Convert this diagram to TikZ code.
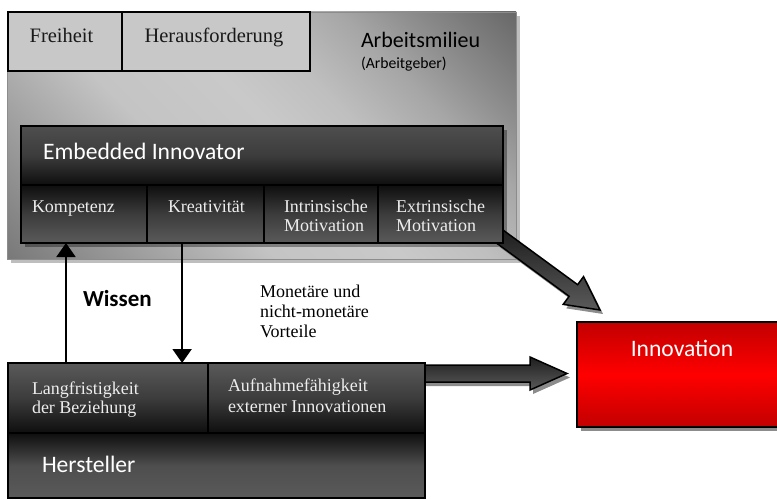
\documentclass[tikz,border=0pt]{standalone}
\usepackage{fontspec}
\setmainfont{Liberation Serif}
\newfontfamily\calib{Carlito}
\usetikzlibrary{calc, arrows.meta}

% grey tones of the work environment panel
\definecolor{milBL}{HTML}{7A7A7A}
\definecolor{milB2}{HTML}{A0A0A0}
\definecolor{milL1}{HTML}{C4C4C4}
\definecolor{milL2}{HTML}{C9C9C9}
\definecolor{milT1}{HTML}{BFBFBF}
\definecolor{milT2}{HTML}{A6A6A6}
\definecolor{milT3}{HTML}{8E8E8E}
\definecolor{milTR}{HTML}{666666}
\definecolor{lightBox}{HTML}{C8C8C8}
\definecolor{cellText}{HTML}{EDEDED}
\definecolor{darkA}{HTML}{0E0E0E}
\definecolor{darkB}{HTML}{3C3C3C}
\definecolor{darkC}{HTML}{5A5A5A}
\definecolor{darkD}{HTML}{4E4E4E}
\definecolor{redDark}{HTML}{C20000}
\definecolor{redLight}{HTML}{FF0000}
\definecolor{shadowGrey}{HTML}{8C8C8C}
\definecolor{shadowLight}{HTML}{BEBEBE}

\pgfdeclarehorizontalshading{milieushade}{100bp}{color(0bp)=(milBL); color(15bp)=(milBL);
  color(28bp)=(milB2); color(40bp)=(milL1); color(52bp)=(milL2); color(60bp)=(milT1);
  color(69bp)=(milT2); color(75bp)=(milT3); color(86bp)=(milTR); color(100bp)=(milTR)}

\newdimen\faXa \newdimen\faYa \newdimen\faXb \newdimen\faYb
% block arrow between two named coordinates:
% #1 start, #2 end, #3 shaft half width, #4 head half width, #5 head length
\newcommand\fatarrow[5]{%
  \pgfextractx{\faXa}{\pgfpointanchor{#1}{center}}%
  \pgfextracty{\faYa}{\pgfpointanchor{#1}{center}}%
  \pgfextractx{\faXb}{\pgfpointanchor{#2}{center}}%
  \pgfextracty{\faYb}{\pgfpointanchor{#2}{center}}%
  \pgfmathsetmacro\faAng{atan2(\faYb-\faYa,\faXb-\faXa)}%
  \pgfmathsetmacro\faLen{veclen(\faXb-\faXa,\faYb-\faYa)}%
  \pgfmathsetmacro\faNeck{\faLen-#5}%
  \begin{scope}[shift={($(#1)+(3pt,-4pt)$)}, rotate=\faAng, x=1pt, y=1pt]
    \fill[shadowGrey] (0,#3) -- (\faNeck,#3) -- (\faNeck,#4) -- (\faLen,0)
      -- (\faNeck,-#4) -- (\faNeck,-#3) -- (0,-#3) -- cycle;
  \end{scope}
  \begin{scope}[shift={(#1)}, rotate=\faAng, x=1pt, y=1pt]
    \shade[fatbody] (0,#3) -- (\faNeck,#3) -- (\faNeck,#4) -- (\faLen,0)
      -- (\faNeck,-#4) -- (\faNeck,-#3) -- (0,-#3) -- cycle;
  \end{scope}}

\tikzset{
  every node/.style={inner sep=0pt, outer sep=0pt},
  milieubox/.style={anchor=north west, shade, shading=milieushade, shading angle=45,
    draw=shadowGrey, line width=0.8pt},
  lightbox/.style={anchor=north west, fill=lightBox, draw=black, line width=1.5pt},
  headbox/.style={anchor=north west, draw=black, line width=1.5pt,
    top color=darkD, bottom color=darkA, middle color=darkB},
  lowcell/.style={anchor=north west, draw=black, line width=1.5pt,
    top color=darkA, bottom color=darkC, middle color=darkB},
  upcell/.style={anchor=north west, draw=black, line width=1.5pt,
    top color=darkC, bottom color=darkA, middle color=darkB},
  footbox/.style={anchor=north west, draw=black, line width=1.5pt,
    top color=darkA, bottom color=darkC, middle color=darkD},
  redbox/.style={anchor=north west, draw=black, line width=2pt,
    top color=redDark, bottom color=redDark, middle color=redLight},
  fatbody/.style={draw=black, line width=1.5pt, line join=miter,
    top color=black!88, bottom color=darkC},
  conn/.style={line width=2pt, -{Triangle[width=19pt,length=14pt]}},
  toptext/.style={font=\fontsize{20.5}{24}\selectfont, text=black!90, anchor=base},
  celltext/.style={font=\fontsize{18}{21}\selectfont, text=cellText, anchor=base west},
  notetext/.style={font=\fontsize{18}{21}\selectfont, text=black, anchor=base west},
  headtext/.style={font=\calib\fontsize{23.6}{28}\selectfont, text=white, anchor=base west},
}

\begin{document}
\begin{tikzpicture}[x=1pt, y=-1pt]
\useasboundingbox (0,0) rectangle (777,500);

% work environment (employer)
\fill[shadowLight] (11,16) rectangle (520,263);
\node[milieubox, minimum width=509pt, minimum height=247pt] (milieu) at (7,12) {};
\node[lightbox, minimum width=114pt, minimum height=59pt] (frei) at (8,12) {};
\node[lightbox, minimum width=188pt, minimum height=59pt] (heraus) at (122,12) {};
\node[toptext] (freiT) at (61.5,43) {Freiheit};
\node[toptext] (herausT) at (214,43) {Herausforderung};
\node[headtext, text=black, font=\calib\fontsize{22}{26}\selectfont] (milieuT) at (361,48) {Arbeitsmilieu};
\node[headtext, text=black, font=\calib\fontsize{15.7}{19}\selectfont] (milieuSub) at (361,69) {(Arbeitgeber)};

% innovation
\fill[shadowGrey] (581,326) rectangle (804,431);
\node[redbox, minimum width=223pt, minimum height=105pt] (innov) at (577,322) {};
\node[headtext, anchor=base] (innovT) at (682,356) {Innovation};

% embedded innovator
\fill[black, opacity=0.35] (25,130) rectangle (507,247);
\coordinate (eiCorner) at (503,243);
\coordinate (dStart) at ($(eiCorner)+(-4,-7)$);
\coordinate (dEnd) at ($(innov.north west)+(23,-12)$);
\fatarrow{dStart}{dEnd}{7.2}{17.2}{33}

\node[headbox, minimum width=482pt, minimum height=59pt] (ei) at (21,126) {};
\node[lowcell, minimum width=126pt, minimum height=58pt] (komp) at (21,185) {};
\node[lowcell, minimum width=117pt, minimum height=58pt] (krea) at (147,185) {};
\node[lowcell, minimum width=114pt, minimum height=58pt] (intr) at (264,185) {};
\node[lowcell, minimum width=125pt, minimum height=58pt] (extr) at (378,185) {};
\node[headtext] (eiT) at (43,160) {Embedded Innovator};
\node[celltext] (kompT) at (32,212) {Kompetenz};
\node[celltext] (kreaT) at (168,212) {Kreativität};
\node[celltext] (intrT1) at (284,212) {Intrinsische};
\node[celltext] (intrT2) at (284,232) {Motivation};
\node[celltext] (extrT1) at (396,212) {Extrinsische};
\node[celltext] (extrT2) at (396,232) {Motivation};

% manufacturer
\coordinate (hEnd) at ($(innov.west)+(-10,-1)$);
\coordinate (hStart) at (421,373.5);
\fatarrow{hStart}{hEnd}{8.5}{16.5}{37}

\node[upcell, minimum width=200pt, minimum height=70pt] (lang) at (8,363) {};
\node[upcell, minimum width=217pt, minimum height=70pt] (auf) at (208,363) {};
\node[footbox, minimum width=417pt, minimum height=65pt] (herst) at (8,433) {};
\node[celltext] (langT1) at (32,394) {Langfristigkeit};
\node[celltext] (langT2) at (32,413) {der Beziehung};
\node[celltext] (aufT1) at (228,391) {Aufnahmefähigkeit};
\node[celltext] (aufT2) at (228,412) {externer Innovationen};
\node[headtext] (herstT) at (42,472) {Hersteller};

% exchange between the two
\coordinate (upFoot) at ($(lang.north west)!0.29!(lang.north east)$);
\draw[conn] (upFoot) -- (upFoot |- komp.south);
\coordinate (downTop) at ($(krea.south west)!0.3!(krea.south east)$);
\draw[conn] (downTop) -- (downTop |- lang.north);
\node[headtext, text=black, font=\calib\bfseries\fontsize{23}{27}\selectfont] (wissen) at (83,306) {Wissen};
\node[notetext] (vort1) at (260,297) {Monetäre und};
\node[notetext] (vort2) at (260,317) {nicht-monetäre};
\node[notetext] (vort3) at (260,337) {Vorteile};
\end{tikzpicture}
\end{document}
